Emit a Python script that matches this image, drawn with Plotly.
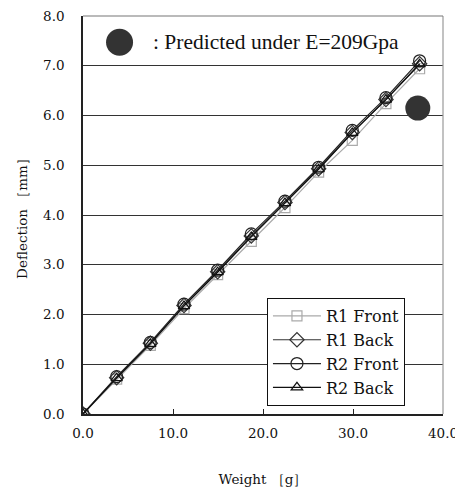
import plotly.graph_objects as go

weight = [0.0, 3.74, 7.48, 11.22, 14.96, 18.70, 22.44, 26.18, 29.92, 33.66, 37.40]
r1_front = [0.0, 0.70, 1.38, 2.12, 2.80, 3.47, 4.15, 4.86, 5.50, 6.24, 6.94]
r1_back = [0.0, 0.73, 1.42, 2.18, 2.86, 3.58, 4.25, 4.93, 5.66, 6.32, 7.04]
r2_front = [0.0, 0.75, 1.44, 2.21, 2.89, 3.62, 4.28, 4.96, 5.70, 6.36, 7.10]
r2_back = [0.0, 0.72, 1.41, 2.17, 2.85, 3.56, 4.24, 4.92, 5.65, 6.32, 7.03]
pred_weight = [37.20]
pred_defl = [6.15]

x_ticks = [0, 10, 20, 30, 40]
y_ticks = [0, 1, 2, 3, 4, 5, 6, 7, 8]

tick_font = dict(family="DejaVu Serif", size=13.5, color="#111")

fig = go.Figure()
fig.add_trace(go.Scatter(x=weight, y=r1_front, name="R1 Front", mode="lines+markers",
                         line=dict(color="#aaaaaa", width=1.2),
                         marker=dict(symbol="square-open", size=10, color="#aaaaaa", line=dict(width=1.2))))
fig.add_trace(go.Scatter(x=weight, y=r1_back, name="R1 Back", mode="lines+markers",
                         line=dict(color="#333333", width=1.2),
                         marker=dict(symbol="diamond-open", size=11, color="#333333", line=dict(width=1.2))))
fig.add_trace(go.Scatter(x=weight, y=r2_front, name="R2 Front", mode="lines+markers",
                         line=dict(color="#222222", width=1.2),
                         marker=dict(symbol="circle-open", size=12, color="#222222", line=dict(width=1.2))))
fig.add_trace(go.Scatter(x=weight, y=r2_back, name="R2 Back", mode="lines+markers",
                         line=dict(color="#111111", width=1.2),
                         marker=dict(symbol="triangle-up-open", size=10, color="#111111", line=dict(width=1.2))))
fig.add_trace(go.Scatter(x=pred_weight, y=pred_defl, name="Predicted", mode="markers",
                         showlegend=False,
                         marker=dict(symbol="circle", size=25, color="#333333")))

fig.update_layout(
    width=455, height=493,
    margin=dict(l=83, r=12, t=16, b=79),
    paper_bgcolor="white", plot_bgcolor="white",
    showlegend=True,
    legend=dict(x=0.511, y=0.02, xanchor="left", yanchor="bottom",
                bgcolor="white", bordercolor="#111", borderwidth=1,
                font=dict(family="DejaVu Serif", size=16, color="#111"),
                itemwidth=48, tracegroupgap=2, entrywidth=88, entrywidthmode="pixels"),
    xaxis=dict(range=[0, 40], tickvals=x_ticks, ticktext=["%.1f" % v for v in x_ticks],
               showgrid=False, zeroline=False, showline=True, linecolor="#222", linewidth=1.5,
               ticks="inside", ticklen=5, tickcolor="#222", tickfont=tick_font,
               automargin=False, ticklabelstandoff=6, ticklabeloverflow="allow",
               title=dict(text="Weight ［g］", font=dict(family="DejaVu Serif", size=13.5, color="#111"),
                          standoff=35)),
    yaxis=dict(range=[0, 8], tickvals=y_ticks, ticktext=["%.1f" % v for v in y_ticks],
               showgrid=True, gridcolor="#333", gridwidth=1, zeroline=False,
               showline=True, linecolor="#222", linewidth=1.5,
               ticks="", tickfont=tick_font, automargin=False, ticklabelstandoff=14,
               ticklabeloverflow="allow",
               title=dict(text="Deflection ［mm］", font=dict(family="DejaVu Serif", size=13.5, color="#111"),
                          standoff=12)),
    shapes=[
        dict(type="line", xref="paper", yref="paper", x0=1, x1=1, y0=0, y1=1,
             line=dict(color="#999", width=1.2)),
        dict(type="line", xref="paper", yref="paper", x0=0, x1=1, y0=1, y1=1,
             line=dict(color="#777", width=1.2)),
        dict(type="circle", xref="paper", yref="paper",
             x0=0.064, x1=0.139, y0=0.900, y1=0.968,
             fillcolor="#333333", line=dict(color="#333333", width=0)),
    ],
    annotations=[
        dict(text=": Predicted under E=209Gpa", xref="paper", yref="paper",
             x=0.19, y=0.934, xanchor="left", yanchor="middle", showarrow=False,
             font=dict(family="Liberation Serif", size=21.5, color="#111")),
    ],
)

fig.write_html("out.html", config={"displayModeBar": False},
               post_script="document.body.style.margin='0';")
